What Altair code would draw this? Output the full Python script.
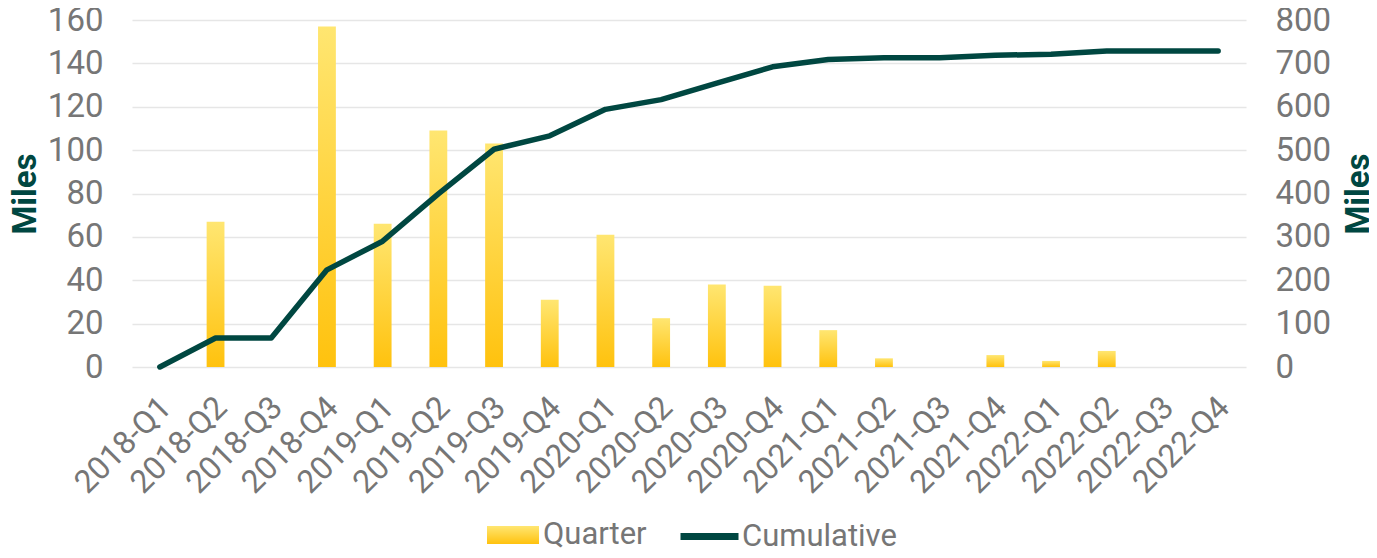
import altair as alt
import pandas as pd

quarters = ["2018-Q1", "2018-Q2", "2018-Q3", "2018-Q4",
            "2019-Q1", "2019-Q2", "2019-Q3", "2019-Q4",
            "2020-Q1", "2020-Q2", "2020-Q3", "2020-Q4",
            "2021-Q1", "2021-Q2", "2021-Q3", "2021-Q4",
            "2022-Q1", "2022-Q2", "2022-Q3", "2022-Q4"]
quarter_miles = [0, 67, 0, 157, 66, 109, 103, 31, 61, 22.5,
                 38, 37.5, 17, 4, 0, 5.5, 2.8, 7.4, 0, 0]
cumulative_miles = [0, 67, 67, 224, 290, 399, 502, 533, 594, 616.5,
                    654.5, 692, 709, 713, 713, 718.5, 721.3, 728.7, 728.7, 728.7]
left_ticks = [0, 20, 40, 60, 80, 100, 120, 140, 160]
right_ticks = [0, 100, 200, 300, 400, 500, 600, 700, 800]

df = pd.DataFrame({"quarter": quarters, "q": quarter_miles, "c": cumulative_miles})

GRAY = "#767676"
TEAL = "#004741"
FONT = "Roboto"
grad_expr = ("{gradient: 'linear', x1: 0, y1: 0, x2: 0, y2: 1, stops: ["
             "{offset: 0, color: '#FFE671'}, {offset: 1, color: '#FFC20E'}]}")

x = alt.X("quarter:N", sort=quarters,
          scale=alt.Scale(paddingInner=0.68, paddingOuter=0.34),
          axis=alt.Axis(title=None, labelAngle=-45, labelAlign="right",
                        labelBaseline="middle", labelPadding=35, labelOffset=6,
                        labelFontSize=32, labelColor=GRAY, labelFont=FONT,
                        ticks=False, domain=False, grid=False))

bars = alt.Chart(df).transform_calculate(series="'Quarter'").mark_bar().encode(
    x=x,
    y=alt.Y("q:Q", scale=alt.Scale(domain=[0, 160], nice=False),
            axis=alt.Axis(values=left_ticks, title="Miles", titleFont=FONT,
                          titleFontSize=33, titleFontWeight="bold", titleColor=TEAL,
                          titlePadding=5, labelFont=FONT, labelFontSize=33,
                          labelColor=GRAY, labelPadding=29, domain=False, ticks=False,
                          grid=True, gridColor="#e6e6e6", gridWidth=1.5)),
    fill=alt.Fill("series:N",
                  scale=alt.Scale(domain=["Quarter"], range=[alt.ExprRef(expr=grad_expr)]),
                  legend=alt.Legend(title=None, orient="none", legendX=355, legendY=489,
                                    direction="horizontal",
                                    symbolType="M-1,-0.346H1V0.346H-1Z", symbolSize=2704,
                                    symbolStrokeWidth=0, labelFont=FONT, labelFontSize=31,
                                    labelColor=GRAY, labelOffset=4)),
)

line = alt.Chart(df).transform_calculate(series="'Cumulative'").mark_line(
    strokeWidth=5.5, strokeCap="round", strokeJoin="round").encode(
    x=x,
    y=alt.Y("c:Q", scale=alt.Scale(domain=[0, 800], nice=False),
            axis=alt.Axis(orient="right", values=right_ticks, title="Miles", titleFont=FONT,
                          titleFontSize=33, titleFontWeight="bold", titleColor=TEAL,
                          titleAngle=-90, titleBaseline="top", titlePadding=12,
                          labelFont=FONT, labelFontSize=33,
                          labelColor=GRAY, labelPadding=29, domain=False, ticks=False,
                          grid=False)),
    stroke=alt.Stroke("series:N",
                      scale=alt.Scale(domain=["Cumulative"], range=[TEAL]),
                      legend=alt.Legend(title=None, orient="none", legendX=545, legendY=484,
                                        direction="horizontal",
                                        symbolType="stroke", symbolSize=3364,
                                        symbolStrokeWidth=7, labelFont=FONT, labelFontSize=31,
                                        labelColor=GRAY, labelOffset=0)),
)

chart = alt.layer(bars, line).resolve_scale(y="independent").properties(
    width=1114, height=347,
    autosize=alt.AutoSizeParams(type="none"),
    padding={"left": 124, "top": 12, "right": 123, "bottom": 183},
    background="white",
).configure_view(stroke=None)

chart.save("out.html", embed_options={"renderer": "svg", "actions": False})
